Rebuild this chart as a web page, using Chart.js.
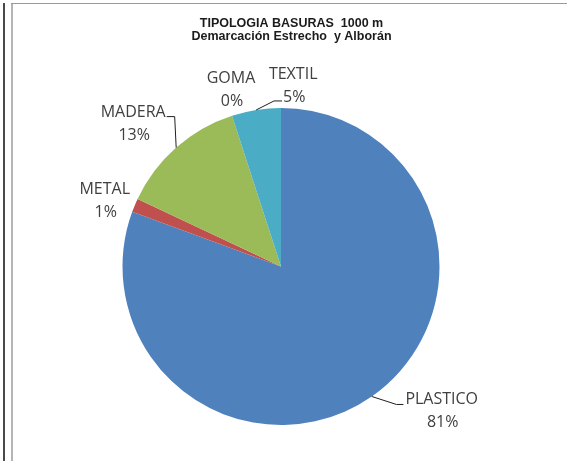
<!DOCTYPE html>
<html>
<head>
<meta charset="utf-8">
<script src="https://cdn.jsdelivr.net/npm/chart.js@4.4.0/dist/chart.umd.min.js"></script>
<style>
    html, body { margin: 0; padding: 0; background: #fff; }
    #wrap { position: relative; width: 567px; height: 461px; overflow: hidden; }
    #chart { position: absolute; left: 0; top: 0; }
    .rule { position: absolute; }
</style>
</head>
<body>
<div id="wrap">
    <canvas id="chart" width="567" height="461"></canvas>
    <div class="rule" style="left:3px;top:3px;width:2px;height:458px;background:#4a4a4a"></div>
    <div class="rule" style="left:11px;top:3px;width:2px;height:458px;background:#b4b4b4"></div>
    <div class="rule" style="left:11px;top:3px;width:556px;height:1px;background:#9a9a9a"></div>
</div>
<script>
const categories = ['PLASTICO', 'METAL', 'MADERA', 'GOMA', 'TEXTIL'];
const shares = [80.6, 1.4, 13.0, 0, 5.0];
const sliceColors = ['#4F81BD', '#C0504D', '#9BBB59', '#8064A2', '#4BACC6'];
const titleLines = ['TIPOLOGIA BASURAS  1000 m', 'Demarcación Estrecho  y Alborán'];

// label centre relative to the slice's outer mid-point, and whether a leader line is drawn
const labelPlacement = [
    { dx: 70, dy: 3, leader: 'left' },
    { dx: -30, dy: -16, leader: null },
    { dx: -43, dy: -35, leader: 'right' },
    { dx: -1, dy: -37, leader: null },
    { dx: 37, dy: -36, leader: 'left2' }
];

const labelFont = '16px "Open Sans"';
const lineGap = 23;

const pieLabels = {
    id: 'pieLabels',
    afterDatasetsDraw(chart) {
        const ctx = chart.ctx;
        const meta = chart.getDatasetMeta(0);
        const total = shares.reduce((a, b) => a + b, 0);

        ctx.save();
        // title
        ctx.fillStyle = '#1b1b1b';
        ctx.font = 'bold 12.5px "Liberation Sans", Arial, sans-serif';
        ctx.textAlign = 'center';
        ctx.textBaseline = 'middle';
        titleLines.forEach((t, i) => ctx.fillText(t, 291.5, 23.5 + i * 13));

        ctx.font = labelFont;
        meta.data.forEach((arc, i) => {
            const p = arc.getProps(['x', 'y', 'startAngle', 'endAngle', 'outerRadius'], true);
            const mid = (p.startAngle + p.endAngle) / 2;
            const ax = p.x + Math.cos(mid) * p.outerRadius;
            const ay = p.y + Math.sin(mid) * p.outerRadius;
            const pl = labelPlacement[i];
            const cx = ax + pl.dx;
            const cy = ay + pl.dy;
            const name = categories[i];
            const pct = Math.round(shares[i] / total * 100) + '%';

            ctx.fillStyle = '#404040';
            ctx.fillText(name, cx, cy);
            ctx.fillText(pct, cx + 1, cy + lineGap);

            if (pl.leader) {
                const w = ctx.measureText(name).width;
                ctx.strokeStyle = '#1f1f1f';
                ctx.lineWidth = 1;
                ctx.beginPath();
                ctx.moveTo(ax, ay);
                if (pl.leader === 'left') {
                    const ex = cx - w / 2 - 2;
                    const ey = cy + 5;
                    ctx.lineTo(ex - 7, ey);
                    ctx.lineTo(ex, ey);
                } else if (pl.leader === 'right') {
                    const ex = cx + w / 2 + 1;
                    const ey = cy + 4;
                    ctx.lineTo(ex + 8, ey);
                    ctx.lineTo(ex, ey);
                } else {
                    const pw = ctx.measureText(pct).width;
                    const ex = cx + 1 - pw / 2 - 1;
                    const ey = cy + lineGap + 4;
                    ctx.lineTo(ex - 8, ey);
                    ctx.lineTo(ex, ey);
                }
                ctx.stroke();
            }
        });
        ctx.restore();
    }
};

new Chart(document.getElementById('chart'), {
    type: 'pie',
    data: {
        labels: categories,
        datasets: [{
            data: shares,
            backgroundColor: sliceColors,
            borderWidth: 0
        }]
    },
    options: {
        responsive: false,
        animation: false,
        devicePixelRatio: 1,
        layout: { padding: { left: 122.5, right: 127.5, top: 108, bottom: 36 } },
        plugins: {
            legend: { display: false },
            title: { display: false },
            tooltip: { enabled: false }
        }
    },
    plugins: [pieLabels]
});
</script>
</body>
</html>
